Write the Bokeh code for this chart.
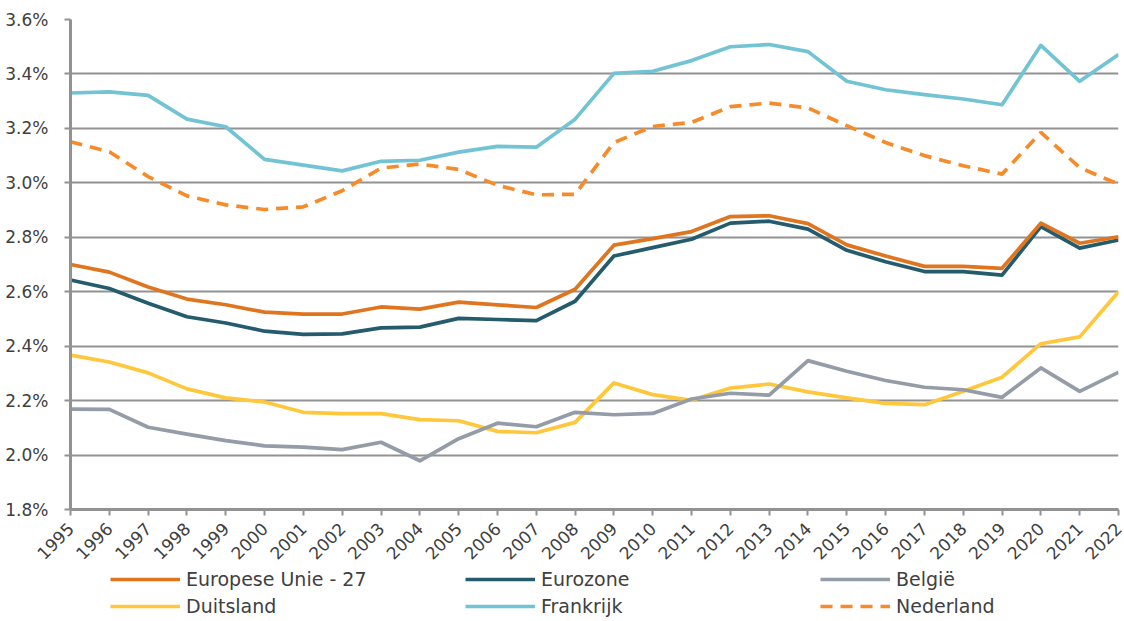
from bokeh.plotting import figure
from bokeh.layouts import column
from bokeh.models import (Range1d, FixedTicker, PrintfTickFormatter, Legend, LegendItem, Label)
from bokeh.embed import file_html
from bokeh.resources import INLINE
from math import pi

years = list(range(1995, 2023))
y_ticks = [1.8, 2.0, 2.2, 2.4, 2.6, 2.8, 3.0, 3.2, 3.4, 3.6]

eu27 = [2.700, 2.672, 2.617, 2.573, 2.552, 2.525, 2.518, 2.518, 2.544, 2.536, 2.562, 2.552, 2.542, 2.609,
        2.771, 2.795, 2.821, 2.876, 2.879, 2.850, 2.772, 2.731, 2.693, 2.693, 2.686, 2.852, 2.778, 2.802]
eurozone = [2.643, 2.612, 2.558, 2.508, 2.485, 2.455, 2.443, 2.445, 2.467, 2.470, 2.502, 2.498, 2.494, 2.565,
            2.731, 2.762, 2.793, 2.852, 2.859, 2.830, 2.752, 2.710, 2.674, 2.674, 2.661, 2.839, 2.760, 2.790]
belgie = [2.169, 2.168, 2.102, 2.077, 2.053, 2.034, 2.029, 2.020, 2.047, 1.979, 2.060, 2.117, 2.104, 2.157,
          2.148, 2.153, 2.206, 2.227, 2.220, 2.347, 2.308, 2.274, 2.249, 2.240, 2.212, 2.320, 2.234, 2.304]
duitsland = [2.367, 2.342, 2.302, 2.243, 2.210, 2.195, 2.157, 2.152, 2.152, 2.130, 2.126, 2.087, 2.082, 2.120,
             2.265, 2.222, 2.201, 2.246, 2.261, 2.232, 2.210, 2.190, 2.185, 2.234, 2.286, 2.409, 2.434, 2.600]
frankrijk = [3.330, 3.334, 3.321, 3.234, 3.206, 3.086, 3.065, 3.044, 3.079, 3.083, 3.113, 3.134, 3.131, 3.234,
             3.402, 3.410, 3.449, 3.500, 3.508, 3.482, 3.373, 3.342, 3.324, 3.308, 3.287, 3.505, 3.373, 3.471]
nederland = [3.151, 3.114, 3.023, 2.952, 2.919, 2.902, 2.912, 2.971, 3.054, 3.069, 3.049, 2.991, 2.956, 2.958,
             3.148, 3.207, 3.222, 3.280, 3.293, 3.275, 3.210, 3.148, 3.100, 3.063, 3.032, 3.185, 3.056, 2.995]

subtitle = "in % van het nominale bbp"

FONT = "DejaVu Sans"
TXT = "#404040"
GRID = "#929292"

styles = {
    "eu": dict(line_color="#E07520", line_width=3.7, line_join="round"),
    "ez": dict(line_color="#245B6D", line_width=3.7, line_join="round"),
    "be": dict(line_color="#939CA7", line_width=3.7, line_join="round"),
    "de": dict(line_color="#FFC73B", line_width=3.7, line_join="round"),
    "fr": dict(line_color="#72C3D3", line_width=3.7, line_join="round"),
    "nl": dict(line_color="#F68B2A", line_width=3.7, line_dash="12 8"),
}

p = figure(width=1124, height=570, output_backend="svg", toolbar_location=None,
           x_range=Range1d(1995, 2022), y_range=Range1d(1.8, 3.6),
           min_border_left=70, min_border_right=6, min_border_top=19, min_border_bottom=61)
p.outline_line_color = None
p.background_fill_color = "white"
p.border_fill_color = "white"

p.line(years, duitsland, **styles["de"])
p.line(years, belgie, **styles["be"])
p.line(years, frankrijk, **styles["fr"])
p.line(years, nederland, **styles["nl"])
p.line(years, eurozone, **styles["ez"])
p.line(years, eu27, **styles["eu"])

p.xgrid.grid_line_color = None
p.ygrid.grid_line_color = GRID
p.ygrid.grid_line_width = 2
p.ygrid.ticker = FixedTicker(ticks=y_ticks)

p.yaxis.ticker = FixedTicker(ticks=y_ticks)
p.yaxis.formatter = PrintfTickFormatter(format="%.1f%%")
p.xaxis.ticker = FixedTicker(ticks=years)
p.xaxis.major_label_orientation = pi / 4

for ax in (p.xaxis[0], p.yaxis[0]):
    ax.axis_line_color = GRID
    ax.axis_line_width = 3
    ax.major_tick_line_color = GRID
    ax.major_tick_line_width = 2
    ax.major_tick_out = 6
    ax.major_tick_in = 0
    ax.minor_tick_line_color = None
    ax.major_label_text_font = FONT
    ax.major_label_text_font_size = "17px"
    ax.major_label_text_color = TXT
p.yaxis.major_label_standoff = 16
p.xaxis.major_label_standoff = 10

p.add_layout(Label(x=1997.24, y=3.6606, text=subtitle, text_font=FONT, text_font_size="14px",
                   text_font_style="italic", text_color=TXT))

# legend panel
q = figure(width=1124, height=47, output_backend="svg", toolbar_location=None,
           x_range=Range1d(0, 1), y_range=Range1d(0, 1),
           x_axis_type=None, y_axis_type=None,
           min_border_left=0, min_border_right=0, min_border_top=0, min_border_bottom=0)
q.outline_line_color = None
q.xgrid.visible = False
q.ygrid.visible = False

# column-major order: column 1, column 2, column 3
legend_labels = [("Europese Unie - 27", "eu"), ("Duitsland", "de"),
                 ("Eurozone", "ez"), ("Frankrijk", "fr"),
                 ("België", "be"), ("Nederland", "nl")]
nan = float("nan")
items = []
for lab, key in legend_labels:
    r = q.line([nan], [nan], **styles[key])
    items.append(LegendItem(label=lab, renderers=[r]))

leg = Legend(items=items, ncols=3, location=(40, 0),
             glyph_width=70, glyph_height=20, label_height=20, label_width=274, spacing=5,
             label_standoff=6, padding=0, margin=0,
             border_line_color=None, background_fill_alpha=0,
             label_text_font=FONT, label_text_font_size="19px", label_text_color=TXT)
q.add_layout(leg)

open("out.html", "w").write(file_html(column(p, q), INLINE))
